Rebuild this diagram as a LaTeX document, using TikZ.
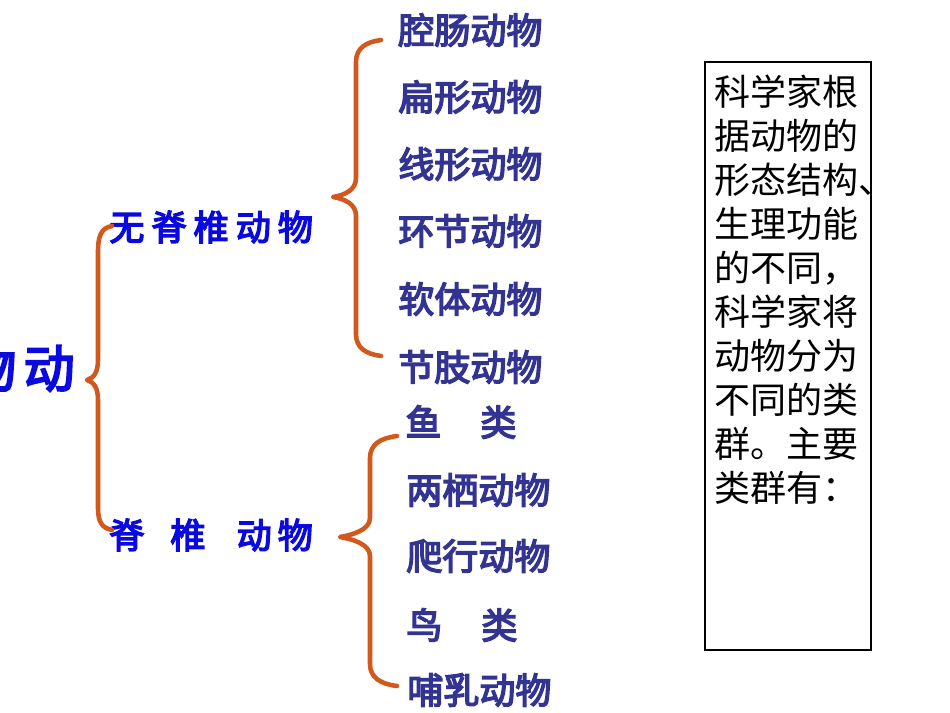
\documentclass[tikz,border=0pt]{standalone}
\usepackage{fontspec}
\usepackage{xcolor}
\usepackage{tikz}
\usetikzlibrary{positioning}
\newfontfamily\cjk{Noto Sans CJK SC}
\newfontfamily\cjkbold[FakeBold=4]{Noto Sans CJK SC}
\definecolor{bracered}{HTML}{D2591E}
\definecolor{groupblue}{HTML}{0A0AE0}
\definecolor{classnavy}{HTML}{333392}
\newcommand{\gap}[1]{\hspace{#1cm}}

\begin{document}
\begin{tikzpicture}[x=0.02cm, y=-0.02cm,
    brace/.style={draw=bracered, line width=2.6pt, line cap=round, line join=round},
    group/.style={anchor=west, inner sep=0pt, text=groupblue,
                  font=\cjkbold\fontsize{20}{20}\selectfont},
    animal/.style={anchor=west, inner sep=0pt, text=classnavy,
                   font=\cjkbold\fontsize{20.5}{21}\selectfont},
  ]
  \useasboundingbox (0,0) rectangle (950,713);

  \node[anchor=east, inner sep=0pt, text=groupblue,
        font=\cjkbold\fontsize{29}{29}\selectfont] (root) at (75,368) {物\gap{0.15}动};

  \node[group] (inv) at (109,227) {无\gap{0.14}脊\gap{0.14}椎\gap{0.14}动\gap{0.14}物};
  \node[group] (ver) at (109,535) {脊\gap{0.52}椎\gap{0.62}动\gap{0.12}物};

  \node[animal] (a1) at (398,30)  {腔肠动物};
  \node[animal] (a2) at (398,97)  {扁形动物};
  \node[animal] (a3) at (398,164) {线形动物};
  \node[animal] (a4) at (398,231) {环节动物};
  \node[animal] (a5) at (398,299) {软体动物};
  \node[animal] (a6) at (398,367) {节肢动物};

  \node[animal] (b1) at (405,422) {鱼\gap{0.78}类};
  \node[animal] (b2) at (406,490) {两栖动物};
  \node[animal] (b3) at (406,556) {爬行动物};
  \node[animal] (b4) at (406,625) {鸟\gap{0.78}类};
  \node[animal] (b5) at (407,690) {哺乳动物};

  \draw[brace] (112,226) .. controls (101,228) and (98,236) .. (98,252) -- (98,360)
    .. controls (98,372) and (94,378) .. (87,380) .. controls (94,382) and (98,388) .. (98,400)
    -- (98,508) .. controls (98,522) and (102,528) .. (112,530);
  \draw[brace] (381,40) .. controls (366,42) and (356,48) .. (356,62) -- (356,178)
    .. controls (356,190) and (345,195) .. (333,197) .. controls (345,199) and (356,204) .. (356,216)
    -- (356,334) .. controls (356,348) and (366,354) .. (381,356);
  \draw[brace] (397,436) .. controls (381,438) and (370,444) .. (370,458) -- (370,518)
    .. controls (370,530) and (352,535) .. (340,537) .. controls (352,539) and (370,544) .. (370,556)
    -- (370,664) .. controls (370,678) and (381,684) .. (397,686);

  \draw[line width=1.1pt] (705,62) rectangle (871,650);
  \node[anchor=north west, inner sep=0pt, align=left,
        font=\cjk\fontsize{20.5}{25}\selectfont] (note) at (714,75)
    {科学家根\\据动物的\\形态结构、\\生理功能\\的不同，\\科学家将\\动物分为\\不同的类\\群。主要\\类群有：};
\end{tikzpicture}
\end{document}
